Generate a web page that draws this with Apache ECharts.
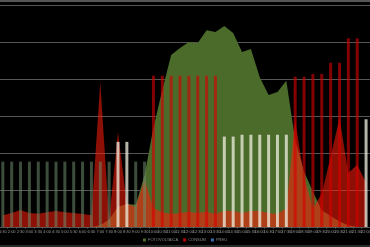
<!DOCTYPE html>
<html><head><meta charset="utf-8">
<script src="https://cdn.jsdelivr.net/npm/echarts@6/dist/echarts.min.js"></script>
<style>html,body{margin:0;padding:0;background:#000;overflow:hidden;width:370px;height:247px;}#c{position:absolute;left:-4px;top:0;width:378px;height:247px;}</style>
</head><body><div id="c"></div>
<script>
var times = ['1:30','2:00','2:30','3:00','3:30','4:00','4:30','5:00','5:30','6:00','6:30','7:00','7:30','8:00','8:30','9:00','9:30','10:00','10:30','11:00','11:30','12:00','12:30','13:00','13:30','14:00','14:30','15:00','15:30','16:00','16:30','17:00','17:30','18:00','18:30','19:00','19:30','20:00','20:30','21:00','21:30','22:00'];
var fotovoltaica = [0,0,0,0,0,0,0,0,0,0,0,0.05,0.2,0.55,0.62,0.6,1.4,2.68,3.7,4.65,4.84,5.0,4.97,5.32,5.27,5.43,5.24,4.73,4.81,4.05,3.57,3.65,3.95,2.35,1.5,0.95,0.45,0.3,0.15,0.05,0,0];
var consum = [0.32,0.38,0.46,0.38,0.36,0.40,0.43,0.40,0.38,0.35,0.32,3.92,0.2,2.57,0.62,0.55,1.27,0.51,0.40,0.35,0.38,0.41,0.38,0.41,0.35,0.43,0.43,0.38,0.43,0.43,0.38,0.35,0.51,2.9,1.35,0.5,0.9,1.9,2.95,1.46,1.68,1.2];
var preu = [0.0867,0.0867,0.0867,0.0867,0.0867,0.0867,0.0867,0.0867,0.0867,0.0867,0.0867,0.0867,0.0867,0.113,0.113,0.0867,0.0867,0.2008,0.2008,0.2008,0.2008,0.2008,0.2008,0.2008,0.2008,0.12,0.12,0.1225,0.1225,0.1225,0.1225,0.1225,0.1225,0.1995,0.1995,0.203,0.203,0.218,0.218,0.2505,0.2505,0.143];

function barColor(v){
  if (v < 0.1) return 'rgba(110,140,110,0.55)';
  if (v < 0.18) return 'rgba(240,240,225,0.75)';
  return 'rgba(215,0,0,0.62)';
}
var preuData = preu.map(function(v){ return {value:v, itemStyle:{color:barColor(v)}}; });

var chart = echarts.init(document.getElementById('c'), null, {renderer:'canvas'});
chart.setOption({
  backgroundColor:'#000',
  animation:false,
  grid:{left:0.5, right:0, top:1, bottom:20},
  legend:{
    data:['FOTOVOLTAICA','CONSUM','PREU'],
    bottom:5, left:'center', padding:[0,5],
    itemWidth:3, itemHeight:3, itemGap:5,
    icon:'rect',
    textStyle:{color:'#888', fontSize:4, padding:[0,0,0,-3]}
  },
  xAxis:{
    type:'category', data:times, boundaryGap:true,
    axisLine:{show:false},
    axisTick:{show:true, length:1.5, lineStyle:{color:'#666'}},
    axisLabel:{interval:0, fontSize:4, color:'#9a9a9a', margin:3}
  },
  yAxis:[
    {type:'value', min:0, max:6.108, interval:1, axisLabel:{show:false}, axisLine:{show:false}, axisTick:{show:false},
     splitLine:{lineStyle:{color:'#555', width:1}}},
    {type:'value', min:0, max:0.3, show:false, splitLine:{show:false}}
  ],
  series:[
    {name:'FOTOVOLTAICA', type:'line', data:fotovoltaica, showSymbol:false, yAxisIndex:0, z:1,
     lineStyle:{width:0}, itemStyle:{color:'#4b6b2b'}, areaStyle:{color:'#4b6b2b', opacity:1}},
    {name:'CONSUM', type:'line', data:consum, showSymbol:false, yAxisIndex:0, z:2,
     lineStyle:{width:0}, itemStyle:{color:'#c00000'}, areaStyle:{color:'rgba(255,30,10,0.55)', opacity:1}},
    {name:'PREU', type:'bar', data:preuData, yAxisIndex:1, barWidth:3, z:5,
     itemStyle:{color:'#3a6ab0', borderWidth:0}}
  ],
  graphic:[{type:'rect', shape:{x:-5, y:0.5, width:390, height:245.5}, style:{fill:null, stroke:'#555', lineWidth:1}, silent:true}]
});
</script></body></html>
